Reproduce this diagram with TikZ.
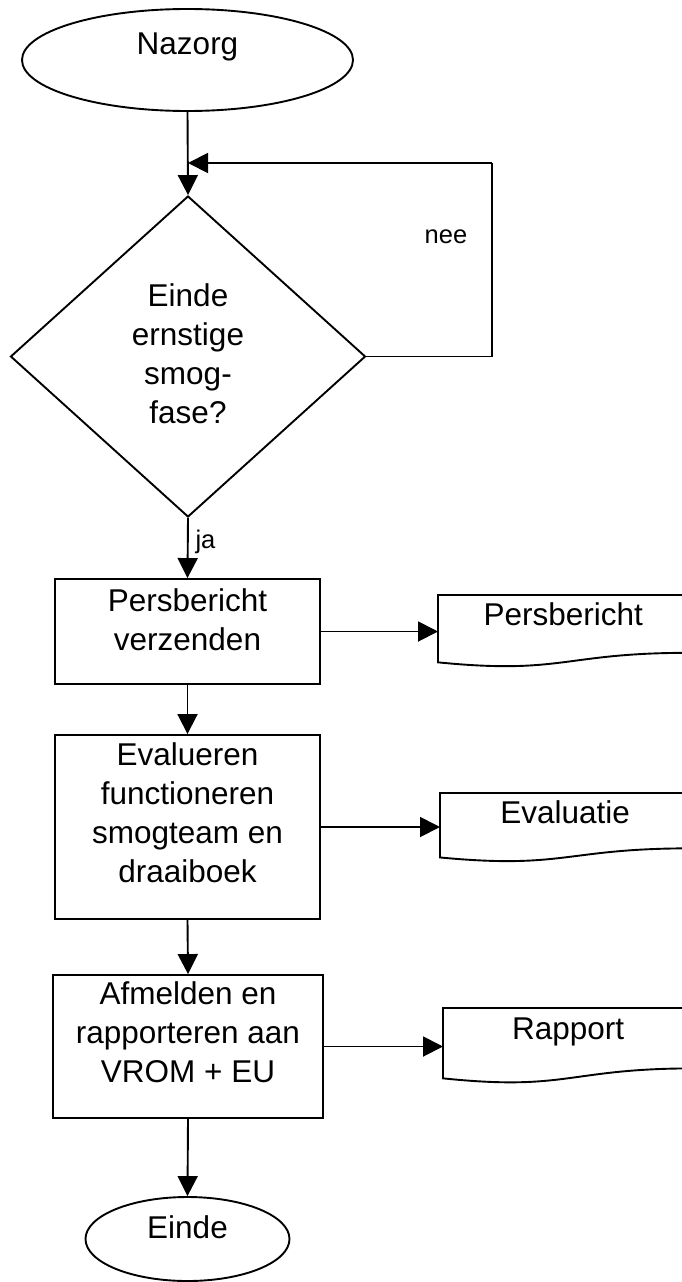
\documentclass[tikz,border=0pt]{standalone}
\usepackage{fontspec}
\setmainfont{Liberation Sans}
\usetikzlibrary{shapes.geometric,arrows.meta,calc}

% outline of a "document" symbol drawn over an invisible frame node
\newcommand\docoutline[1]{%
  \draw[flowline] (#1.north west) -- (#1.north east)
    -- ($(#1.north east)!0.802!(#1.south east)$)
    .. controls ($(#1.north)!0.802!(#1.south)$) and ($(#1.north)!1.107!(#1.south)$)
    .. ($(#1.north west)!0.934!(#1.south west)$) -- cycle;}

\begin{document}
\begin{tikzpicture}[x=1pt,y=-1pt,
  flowline/.style={draw, line width=1.9pt, line join=miter},
  arrow/.style={flowline, -{Triangle[length=20pt,width=20pt]}},
  bigtext/.style={font=\fontsize{31.5}{39}\selectfont},
  smalltext/.style={font=\fontsize{25.5}{30}\selectfont},
  terminal/.style={ellipse, flowline, inner sep=0pt, bigtext},
  stepbox/.style={rectangle, flowline, inner sep=0pt, align=center, bigtext},
  decision/.style={diamond, flowline, inner sep=0pt, align=center, bigtext},
  docframe/.style={rectangle, inner sep=0pt, minimum width=250pt, anchor=north west},
  doctext/.style={anchor=base, bigtext}]

\useasboundingbox (0,0) rectangle (681,1282);

% start / end terminals
\node[terminal, minimum width=331pt, minimum height=102pt, text depth=33pt]
  (nazorg) at (187.5,60) {Nazorg};
\node[terminal, minimum width=204pt, minimum height=84pt, text depth=23pt]
  (einde) at (187.5,1239) {Einde};

% decision
\node[decision, minimum width=355pt, minimum height=321pt, text depth=6pt]
  (dia) at (188,356.5) {Einde\\ernstige\\smog-\\fase?};

% process steps
\node[stepbox, minimum width=265pt, minimum height=105pt, text depth=24pt]
  (box1) at (187.5,631.5) {Persbericht\\verzenden};
\node[stepbox, minimum width=265pt, minimum height=184pt, text depth=29pt]
  (box2) at (187.5,827) {Evalueren\\functioneren\\smogteam en\\draaiboek};
\node[stepbox, minimum width=270pt, minimum height=143pt, text depth=28pt]
  (box3) at (188,1046.5) {Afmelden en\\rapporteren aan\\VROM + EU};

% output documents
\node[docframe, minimum height=71.7pt] (doc1) at (438,595) {};
\node[docframe, minimum height=68.6pt] (doc2) at (440,793) {};
\node[docframe, minimum height=74.9pt] (doc3) at (443,1008) {};
\docoutline{doc1}
\docoutline{doc2}
\docoutline{doc3}
\node[doctext] (doc1txt) at ([yshift=-30pt]doc1.north) {Persbericht};
\node[doctext] (doc2txt) at ([yshift=-30pt]doc2.north) {Evaluatie};
\node[doctext] (doc3txt) at ([yshift=-31pt]doc3.north) {Rapport};

% loop-back coordinates
\coordinate (loopcorner) at (492,163);
\coordinate (merge) at (188,163);

% connectors
\draw[arrow] (nazorg.south) -- (dia.north);
\draw[flowline] (dia.east) -| (loopcorner);
\draw[arrow] (loopcorner) -- (merge);
\node[smalltext, anchor=base] (nee) at (446,243) {nee};

\draw[arrow] (dia.south) -- (box1.north);
\node[smalltext, anchor=base] (ja) at (205.5,548) {ja};

\draw[arrow] (box1.south) -- (box2.north);
\draw[arrow] (box2.south) -- (box3.north);
\draw[arrow] (box3.south) -- (einde.north);

\draw[arrow] (box1.east) -- (box1.east -| doc1.west);
\draw[arrow] (box2.east) -- (box2.east -| doc2.west);
\draw[arrow] (box3.east) -- (box3.east -| doc3.west);

\end{tikzpicture}
\end{document}
